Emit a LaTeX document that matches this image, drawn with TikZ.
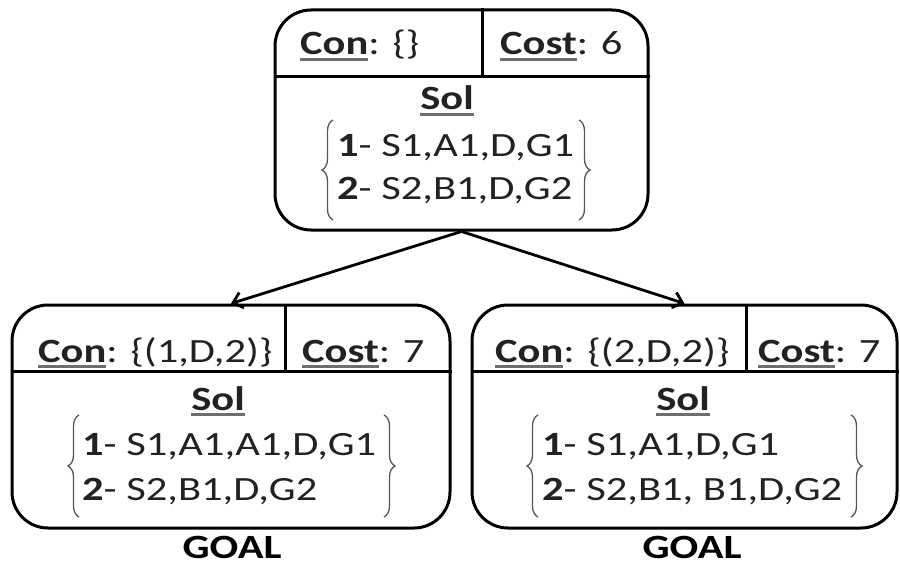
\documentclass[tikz,border=0pt]{standalone}
\usepackage{fontspec}
\setmainfont{Carlito}[FakeStretch=1.25]
\usetikzlibrary{arrows.meta,decorations.pathreplacing}
\definecolor{ulgray}{HTML}{6E6E6E}
\definecolor{txtc}{HTML}{222222}
\definecolor{brc}{HTML}{555555}
\newcommand\myfs{\fontsize{34pt}{40pt}\selectfont}
\newcommand\myul[1]{\setbox0\hbox{\textbf{#1}}\rlap{\color{ulgray}\rule[-6pt]{\wd0}{2.6pt}}\box0}
\begin{document}
\begin{tikzpicture}[x=1pt,y=-1pt,
  nodebox/.style={draw, line width=3pt, rounded corners=36pt, inner sep=0, minimum height=#1},
  divline/.style={line width=3pt},
  txt/.style={inner sep=0, anchor=base west, font=\myfs, text=txtc},
  ctxt/.style={inner sep=0, anchor=base, font=\myfs, text=txtc},
  goaltxt/.style={inner sep=0, anchor=base, font=\myfs\bfseries, text=black},
  lbrace/.style={decorate, decoration={brace, amplitude=11pt, aspect=0.5}, draw=brc, line width=1.3pt},
  edge/.style={line width=2.8pt, -{Straight Barb[length=9pt,width=16pt,line width=2.8pt]}}]
\useasboundingbox (0,0) rectangle (900,567);

% top node
\node[nodebox=220pt, minimum width=373pt] (root) at (461.5,120) {};
\coordinate (rh) at (0,77);
\coordinate (rv) at (482,0);
\draw[divline] (root.west |- rh) -- (root.east |- rh);
\draw[divline] (root.north -| rv) -- (rv |- rh);
\node[txt] (rcon) at (300,55) {\myul{Con}: \{\}};
\node[txt] (rcost) at (500,55) {\myul{Cost}: 6};
\node[ctxt] (rsol) at (447,110) {\myul{Sol}};
\node[txt] (rl1) at (337,157) {\textbf{1}- S1,A1,D,G1};
\node[txt] (rl2) at (337,200) {\textbf{2}- S2,B1,D,G2};
\coordinate (rbl1) at (333,120); \coordinate (rbl2) at (333,220);
\coordinate (rbr1) at (579,120); \coordinate (rbr2) at (579,220);
\draw[lbrace] (rbl2) -- (rbl1);
\draw[lbrace] (rbr1) -- (rbr2);

% left child
\node[nodebox=223pt, minimum width=438pt] (lc) at (231,416.5) {};
\coordinate (lh) at (0,371);
\coordinate (lv) at (285,0);
\draw[divline] (lc.west |- lh) -- (lc.east |- lh);
\draw[divline] (lc.north -| lv) -- (lv |- lh);
\node[txt] (lcon) at (38,362) {\myul{Con}: \{(1,D,2)\}};
\node[txt] (lcost) at (302,362) {\myul{Cost}: 7};
\node[ctxt] (lsol) at (218,410) {\myul{Sol}};
\node[txt] (ll1) at (82,455) {\textbf{1}- S1,A1,A1,D,G1};
\node[txt] (ll2) at (82,500) {\textbf{2}- S2,B1,D,G2};
\coordinate (lbl1) at (79,415); \coordinate (lbl2) at (79,517);
\coordinate (lbr1) at (384,415); \coordinate (lbr2) at (384,517);
\draw[lbrace] (lbl2) -- (lbl1);
\draw[lbrace] (lbr1) -- (lbr2);
\node[goaltxt] (lgoal) at (232,558) {GOAL};

% right child
\node[nodebox=223pt, minimum width=425pt] (rc) at (684.5,416.5) {};
\coordinate (ch) at (0,371);
\coordinate (cv) at (746,0);
\draw[divline] (rc.west |- ch) -- (rc.east |- ch);
\draw[divline] (rc.north -| cv) -- (cv |- ch);
\node[txt] (ccon) at (495,362) {\myul{Con}: \{(2,D,2)\}};
\node[txt] (ccost) at (758,362) {\myul{Cost}: 7};
\node[ctxt] (csol) at (683,410) {\myul{Sol}};
\node[txt] (cl1) at (542,455) {\textbf{1}- S1,A1,D,G1};
\node[txt] (cl2) at (542,500) {\textbf{2}- S2,B1, B1,D,G2};
\coordinate (cbl1) at (538,415); \coordinate (cbl2) at (538,517);
\coordinate (cbr1) at (851,415); \coordinate (cbr2) at (851,517);
\draw[lbrace] (cbl2) -- (cbl1);
\draw[lbrace] (cbr1) -- (cbr2);
\node[goaltxt] (cgoal) at (692,558) {GOAL};

% edges
\draw[edge] (root.south) -- (lc.north);
\draw[edge] (root.south) -- (rc.north);
\end{tikzpicture}
\end{document}
